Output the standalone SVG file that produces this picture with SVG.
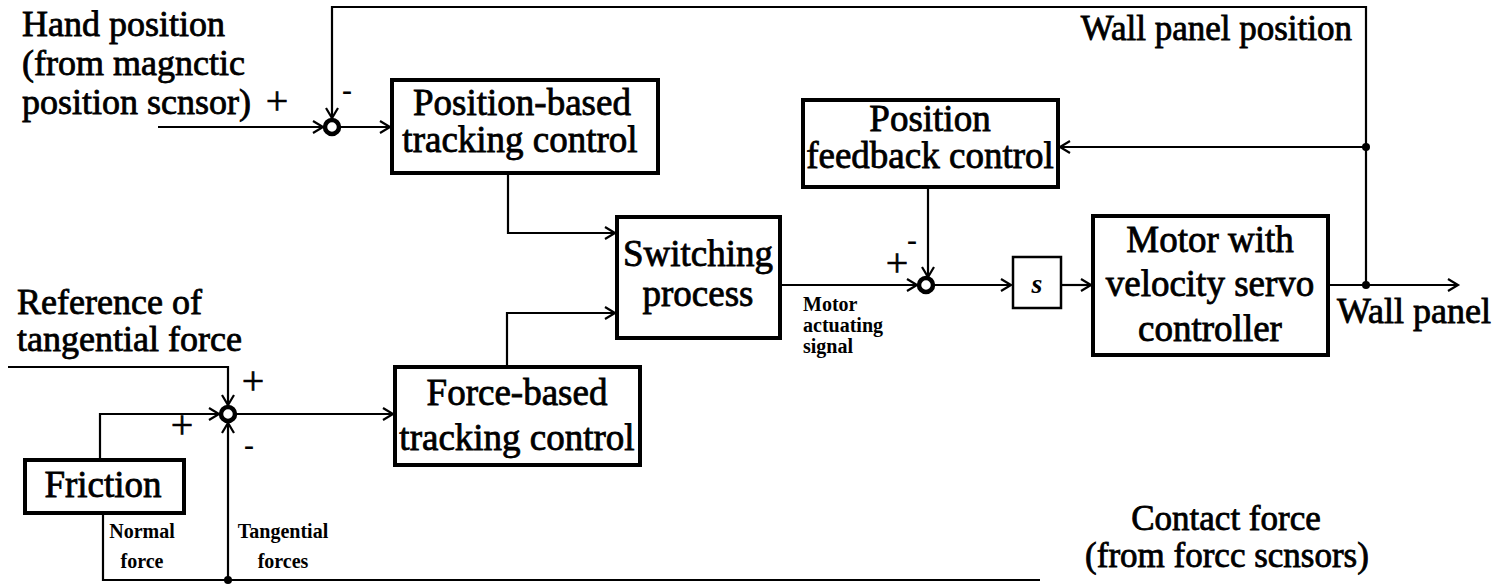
<svg xmlns="http://www.w3.org/2000/svg" width="1505" height="584" viewBox="0 0 1505 584">
<style>
.box{fill:#fff;stroke:#000;stroke-width:4}
.thin{fill:#fff;stroke:#000;stroke-width:2.5}
.sum{fill:#fff;stroke:#000;stroke-width:4.5}
.ln{fill:none;stroke:#000;stroke-width:2.2}
.t{font-family:"Liberation Serif","Times New Roman",serif;font-size:37px;fill:#000;stroke:#000;stroke-width:0.8}
.lbl{font-family:"Liberation Serif","Times New Roman",serif;font-size:36px;fill:#000;stroke:#000;stroke-width:0.8}
.sm{font-family:"Liberation Serif","Times New Roman",serif;font-size:20px;font-weight:bold;fill:#000}
.sg{font-family:"Liberation Serif","Times New Roman",serif;font-size:40px;fill:#000;stroke:#000;stroke-width:0.6}
.dash{font-family:"Liberation Serif","Times New Roman",serif;font-size:30px;font-weight:bold;fill:#000}
.mid{text-anchor:middle}
</style>
<defs>
<marker id="ar" markerWidth="14" markerHeight="14" refX="11" refY="7" orient="auto" markerUnits="userSpaceOnUse">
<path d="M1,1 L11,7 L1,13" fill="none" stroke="#000" stroke-width="2.2"/>
</marker>
</defs>

<g id="connectors">
<path class="ln" d="M1366,285 L1366,7 L332,7 L332,118" marker-end="url(#ar)"/>
<path class="ln" d="M158,127 L323,127" marker-end="url(#ar)"/>
<path class="ln" d="M340,127 L390,127" marker-end="url(#ar)"/>
<path class="ln" d="M1366,147 L1060,147" marker-end="url(#ar)"/>
<path class="ln" d="M508,173 L508,233 L615,233" marker-end="url(#ar)"/>
<path class="ln" d="M507,367 L507,313 L615,313" marker-end="url(#ar)"/>
<path class="ln" d="M780,285 L917,285" marker-end="url(#ar)"/>
<path class="ln" d="M928,187 L928,277" marker-end="url(#ar)"/>
<path class="ln" d="M934,285 L1011,285" marker-end="url(#ar)"/>
<path class="ln" d="M1061,285 L1091,285" marker-end="url(#ar)"/>
<path class="ln" d="M1328,285 L1458,285" marker-end="url(#ar)"/>
<path class="ln" d="M8,367 L228,367 L228,405" marker-end="url(#ar)"/>
<path class="ln" d="M100,460 L100,414 L219,414" marker-end="url(#ar)"/>
<path class="ln" d="M228,580 L228,423" marker-end="url(#ar)"/>
<path class="ln" d="M237,414 L393,414" marker-end="url(#ar)"/>
<path class="ln" d="M103,513 L103,580 L1040,580"/>
<circle cx="1366" cy="147" r="4"/>
<circle cx="1366" cy="285" r="4"/>
<circle cx="228" cy="580" r="4"/>
</g>

<g id="sum1"><circle class="sum" cx="332" cy="127" r="7"/></g>
<g id="sum2"><circle class="sum" cx="926" cy="285" r="7"/></g>
<g id="sum3"><circle class="sum" cx="228" cy="414" r="7"/></g>

<g id="position-based">
<rect class="box" x="392" y="80" width="266" height="93"/>
<text class="t mid" x="522" y="115">Position-based</text>
<text class="t mid" x="520" y="152">tracking control</text>
</g>

<g id="position-feedback">
<rect class="box" x="803" y="100" width="255" height="87"/>
<text class="t mid" x="930" y="131">Position</text>
<text class="t mid" x="930" y="168">feedback control</text>
</g>

<g id="switching">
<rect class="box" x="617" y="217" width="163" height="121"/>
<text class="t mid" x="698" y="266">Switching</text>
<text class="t mid" x="698" y="306">process</text>
</g>

<g id="s-block">
<rect class="thin" x="1013" y="257" width="48" height="51"/>
<text x="1037" y="293" text-anchor="middle" style="font-family:'Liberation Serif',serif;font-size:28px;font-style:italic;font-weight:bold">s</text>
</g>

<g id="motor">
<rect class="box" x="1093" y="216" width="235" height="139"/>
<text class="t mid" x="1210" y="252">Motor with</text>
<text class="t mid" x="1210" y="296">velocity servo</text>
<text class="t mid" x="1210" y="341">controller</text>
</g>

<g id="force-based">
<rect class="box" x="395" y="367" width="245" height="98"/>
<text class="t mid" x="517" y="405">Force-based</text>
<text class="t mid" x="517" y="450">tracking control</text>
</g>

<g id="friction">
<rect class="box" x="25" y="460" width="159" height="53"/>
<text class="t mid" x="103" y="497">Friction</text>
</g>

<g id="labels">
<text class="lbl" x="22" y="36">Hand position</text>
<text class="lbl" x="22" y="75">(from magnctic</text>
<text class="lbl" x="22" y="114">position scnsor)</text>
<text class="lbl" x="1352" y="40" text-anchor="end" style="font-size:35px">Wall panel position</text>
<text class="lbl" x="1337" y="323">Wall panel</text>
<text class="lbl" x="17" y="314">Reference of</text>
<text class="lbl" x="17" y="351">tangential force</text>
<text class="lbl mid" x="1226" y="530" style="font-size:35px">Contact force</text>
<text class="lbl mid" x="1227" y="567" style="font-size:35px">(from forcc scnsors)</text>
<text class="sm" x="803" y="311">Motor</text>
<text class="sm" x="803" y="332">actuating</text>
<text class="sm" x="803" y="353">signal</text>
<text class="sm mid" x="142" y="538">Normal</text>
<text class="sm mid" x="142" y="568">force</text>
<text class="sm mid" x="283" y="538">Tangential</text>
<text class="sm mid" x="283" y="568">forces</text>
<text class="sg mid" x="277" y="114">+</text>
<text class="dash mid" x="347" y="100">-</text>
<text class="dash mid" x="912" y="250">-</text>
<text class="sg mid" x="897" y="276">+</text>
<text class="sg mid" x="253" y="394">+</text>
<text class="sg mid" x="182" y="438">+</text>
<text class="dash mid" x="249" y="455">-</text>
</g>
</svg>
